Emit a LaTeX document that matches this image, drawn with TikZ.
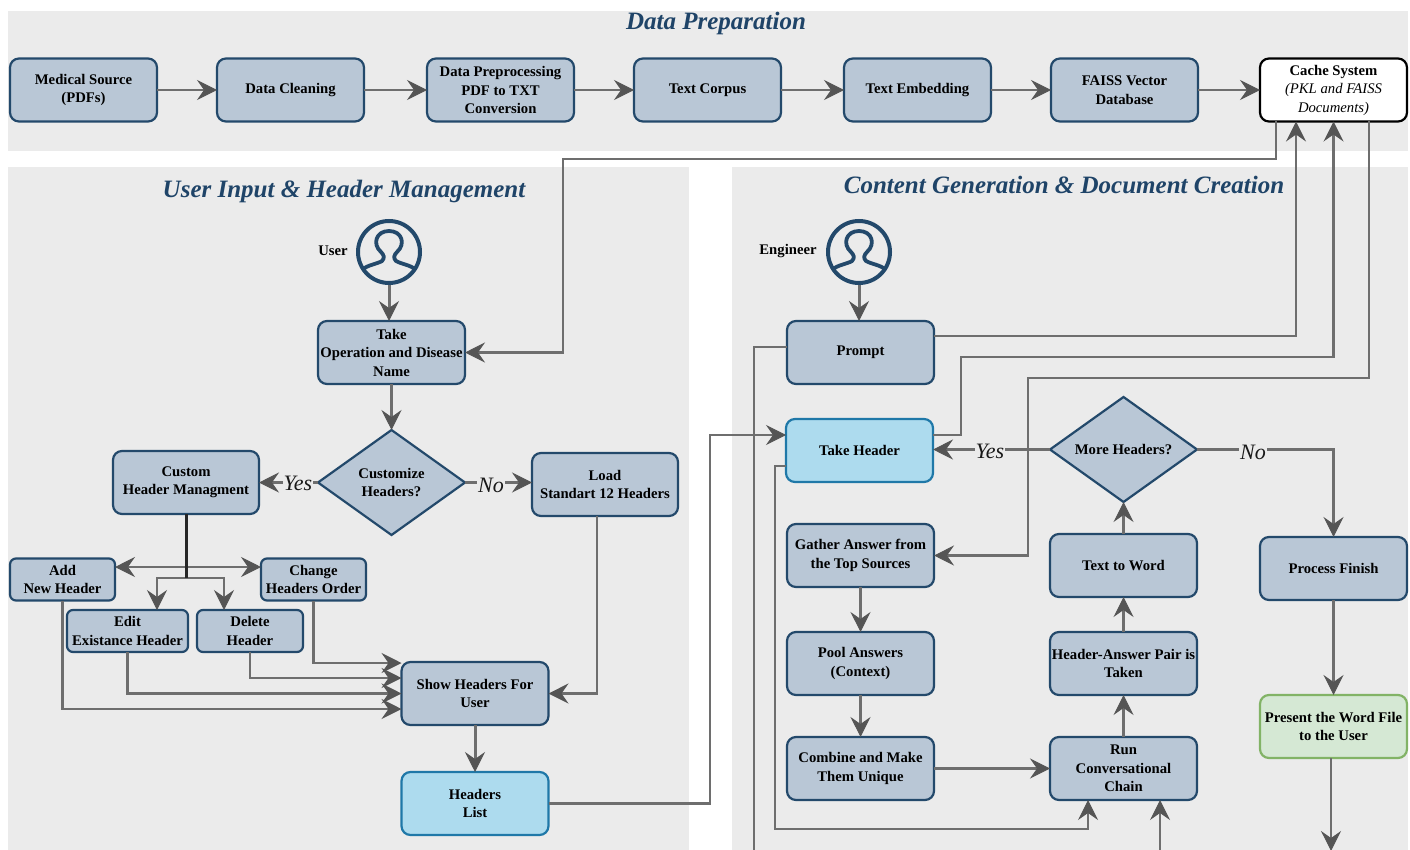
\documentclass[tikz,border=0pt]{standalone}
\usepackage{fontspec}
\setmainfont{Liberation Serif}
\usetikzlibrary{arrows.meta,shapes.geometric}
\definecolor{panel}{HTML}{EBEBEB}
\definecolor{boxfill}{HTML}{B9C7D6}
\definecolor{boxline}{HTML}{23496B}
\definecolor{bluefill}{HTML}{ADDBEE}
\definecolor{blueline}{HTML}{1F78A8}
\definecolor{greenfill}{HTML}{D5E8D4}
\definecolor{greenline}{HTML}{82B366}
\definecolor{conn}{HTML}{6E6E6E}
\definecolor{tipc}{HTML}{555555}
\definecolor{titlec}{HTML}{1F4468}
\tikzset{
  x=1pt,y=-1pt,
  bigtip/.tip={Stealth[length=20pt,width=20pt,inset=7pt,fill=tipc,line width=1pt,color=tipc]},
  panelbox/.style={fill=panel,draw=none},
  base/.style={draw=boxline,fill=boxfill,line width=2.2pt,rounded corners=9pt,align=center,
    font=\fontsize{14.7}{18.5}\selectfont\bfseries,text=black,inner sep=0pt,outer sep=0pt,
    minimum width=147pt,minimum height=63pt},
  small/.style={base,minimum width=105pt,minimum height=42pt,rounded corners=6pt},
  bluebox/.style={base,fill=bluefill,draw=blueline},
  greenbox/.style={base,fill=greenfill,draw=greenline},
  cachebox/.style={base,fill=white,draw=black},
  decision/.style={diamond,draw=boxline,fill=boxfill,line width=2.2pt,align=center,aspect=1.4,
    font=\fontsize{14.7}{18.5}\selectfont\bfseries,inner sep=0pt,outer sep=0pt,
    minimum width=147pt,minimum height=105pt},
  paneltitle/.style={font=\fontsize{25}{30}\selectfont\bfseries\itshape,text=titlec,inner sep=0pt},
  answer/.style={font=\fontsize{22}{26}\selectfont\itshape,fill=panel,inner sep=1pt,text=black!90},
  caption/.style={font=\fontsize{14.7}{18}\selectfont\bfseries,inner sep=0pt},
  iconcircle/.style={circle,draw=boxline,line width=4pt,minimum size=62pt,inner sep=0pt,outer sep=2pt},
  link/.style={draw=conn,line width=2.2pt,-{bigtip}},
  heavy/.style={link,line width=3pt},
  both/.style={link,{bigtip}-{bigtip}},
  plain/.style={draw=conn,line width=2.2pt},
  stem/.style={draw=black!85,line width=3pt},
}
\newcommand{\personicon}[2]{%
  \draw[boxline,line width=3.8pt,line join=round] (#1-27,#2+18)
    .. controls (#1-22,#2+13) and (#1-12,#2+12) .. (#1-7,#2+9)
    .. controls (#1-4,#2+6) and (#1-5,#2+3) .. (#1-8,#2)
    .. controls (#1-17,#2-8) and (#1-13,#2-21) .. (#1,#2-21)
    .. controls (#1+13,#2-21) and (#1+17,#2-8) .. (#1+8,#2)
    .. controls (#1+5,#2+3) and (#1+4,#2+6) .. (#1+7,#2+9)
    .. controls (#1+12,#2+12) and (#1+22,#2+13) .. (#1+27,#2+18);}
\begin{document}
\begin{tikzpicture}
\useasboundingbox (0,0) rectangle (1410,850);
\clip (0,0) rectangle (1410,850);
\fill[white] (0,0) rectangle (1410,850);
\fill[panelbox] (8,11) rectangle (1408,151);
\fill[panelbox] (8,167) rectangle (689,850);
\fill[panelbox] (732,167) rectangle (1408,850);

\node[paneltitle] (t1) at (716,23) {Data Preparation};
\node[paneltitle] (t2) at (344,191) {User Input \& Header Management};
\node[paneltitle] (t3) at (1064,185) {Content Generation \& Document Creation};

% top row
\node[base] (med) at (83.5,90) {Medical Source\\(PDFs)};
\node[base] (clean) at (290.5,90) {Data Cleaning};
\node[base] (prep) at (500.5,90) {Data Preprocessing\\PDF to TXT\\Conversion};
\node[base] (corpus) at (707.5,90) {Text Corpus};
\node[base] (embed) at (917.5,90) {Text Embedding};
\node[base] (faiss) at (1124.5,90) {FAISS Vector\\Database};
\node[cachebox] (cache) at (1333.5,90) {Cache System\\\textmd{\textit{(PKL and FAISS}}\\\textmd{\textit{Documents)}}};

% left panel
\node[iconcircle] (usericon) at (389,252) {};
\personicon{389}{252}
\node[caption] (userlabel) at (333,251) {User};
\node[base] (take) at (391.5,352.5) {Take\\Operation and Disease\\Name};
\node[decision] (customize) at (391.5,482.5) {Customize\\Headers?};
\node[base,minimum width=146pt] (custom) at (186,482.5) {Custom\\Header Managment};
\node[base,minimum width=146pt] (load) at (605,484.5) {Load\\Standart 12 Headers};
\node[small] (add) at (62.5,579.5) {Add\\New Header};
\node[small] (change) at (313.5,579.5) {Change\\Headers Order};
\node[small,minimum width=121pt] (edit) at (127.5,631) {Edit\\Existance Header};
\node[small,minimum width=106pt] (delete) at (250,631) {Delete\\Header};
\node[base] (show) at (475,693.5) {Show Headers For\\User};
\node[bluebox] (hlist) at (475,803.5) {Headers\\List};

% right panel
\node[iconcircle] (engicon) at (859,252) {};
\personicon{859}{252}
\node[caption] (englabel) at (788,251) {Engineer};
\node[base] (prompt) at (860.5,352.5) {Prompt};
\node[bluebox] (takeh) at (859.5,450.5) {Take Header};
\node[decision] (more) at (1123.5,449.5) {More Headers?};
\node[base] (gather) at (860.5,555.5) {Gather Answer from\\the Top Sources};
\node[base] (pool) at (860.5,663.5) {Pool Answers\\(Context)};
\node[base] (combine) at (860.5,768.5) {Combine and Make\\Them Unique};
\node[base] (word) at (1123.5,565.5) {Text to Word};
\node[base] (pair) at (1123.5,663.5) {Header-Answer Pair is\\Taken};
\node[base] (run) at (1123.5,768.5) {Run\\Conversational\\Chain};
\node[base] (finish) at (1333.5,568.5) {Process Finish};
\node[greenbox] (present) at (1333.5,726.5) {Present the Word File\\to the User};

\coordinate (presentend) at (1331,851);
\coordinate (runin) at (1160,860);
\coordinate (promptdown) at (754,860);
\coordinate (tree) at (186,578);

% top row connectors
\draw[link] (med) -- (clean);
\draw[link] (clean) -- (prep);
\draw[link] (prep) -- (corpus);
\draw[link] (corpus) -- (embed);
\draw[link] (embed) -- (faiss);
\draw[link] (faiss) -- (cache);

% cross-panel
\draw[link] ([xshift=-57.5pt]cache.south) -- (1276,159) -- (563,159) -- (563,352.5) -- (take.east);
\draw[link] ([yshift=16.5pt]prompt.east) -- (1296,336) -- ([xshift=-37.5pt]cache.south);
\draw[link] ([yshift=15.5pt]takeh.east) -- (961,435) -- (961,357) -- (1333.5,357) -- (cache.south);
\draw[link] ([xshift=35.5pt]cache.south) -- (1369,378) -- (1028,378) -- (1028,555.5) -- (gather.east);
\draw[plain] ([yshift=5.5pt]prompt.west) -- (754,347) -- (promptdown);
\draw[link] ([yshift=-15.5pt]takeh.west) -- (775,466) -- (775,829) -- (1088,829) -- ([xshift=-35.5pt]run.south);
\draw[link] (runin) -- ([xshift=36.5pt]run.south);
\draw[link] (hlist.east) -- (710,803.5) -- (710,435) -- ([yshift=15.5pt]takeh.west);

% left panel connectors
\draw[heavy] (usericon.south) -- (usericon.south |- take.north);
\draw[heavy] (take) -- (customize);
\node[answer] (yes1) at (298,483) {Yes};
\node[answer] (no1) at (491,485) {No};
\draw[plain] (customize.west) -- (customize.west -| yes1.east);
\draw[link] (customize.west -| yes1.west) -- (custom.east);
\draw[plain] (customize.east) -- (customize.east -| no1.west);
\draw[link] (customize.east -| no1.east) -- (customize.east -| load.west);
\draw[both] ([yshift=12.5pt]add.east) -- ([yshift=12.5pt]change.west);
\draw[link] (tree) -| (157,610);
\draw[link] (tree) -| (224,610);
\draw[stem] (custom.south) -- (tree);
\draw[link] (add.south) |- ([yshift=-15.5pt]show.west);
\draw[link] (edit.south) |- (show.west);
\draw[link] (delete.south) |- ([yshift=15.5pt]show.west);
\draw[link] (change.south) |- ([yshift=30.5pt]show.west);
\draw[link] ([xshift=-8pt]load.south) |- (show.east);
\draw[heavy] (show) -- (hlist);

% right panel connectors
\draw[heavy] (engicon.south) -- (engicon.south |- prompt.north);
\draw[heavy] (gather) -- (pool);
\draw[heavy] (pool) -- (combine);
\draw[heavy] (combine) -- (run);
\draw[heavy] (run) -- (pair);
\draw[heavy] (pair) -- (word);
\draw[heavy] (word) -- (more);
\node[answer] (yes2) at (990,451) {Yes};
\node[answer] (no2) at (1253,452) {No};
\draw[plain] (more.west) -- (more.west -| yes2.east);
\draw[link] (more.west -| yes2.west) -- (more.west -| takeh.east);
\draw[plain] (more.east) -- (more.east -| no2.west);
\draw[link] (more.east -| no2.east) -- (more.east -| finish.north) -- (finish.north);
\draw[link] (finish) -- (present);
\draw[link] ([xshift=-2.5pt]present.south) -- (presentend);
\end{tikzpicture}
\end{document}
